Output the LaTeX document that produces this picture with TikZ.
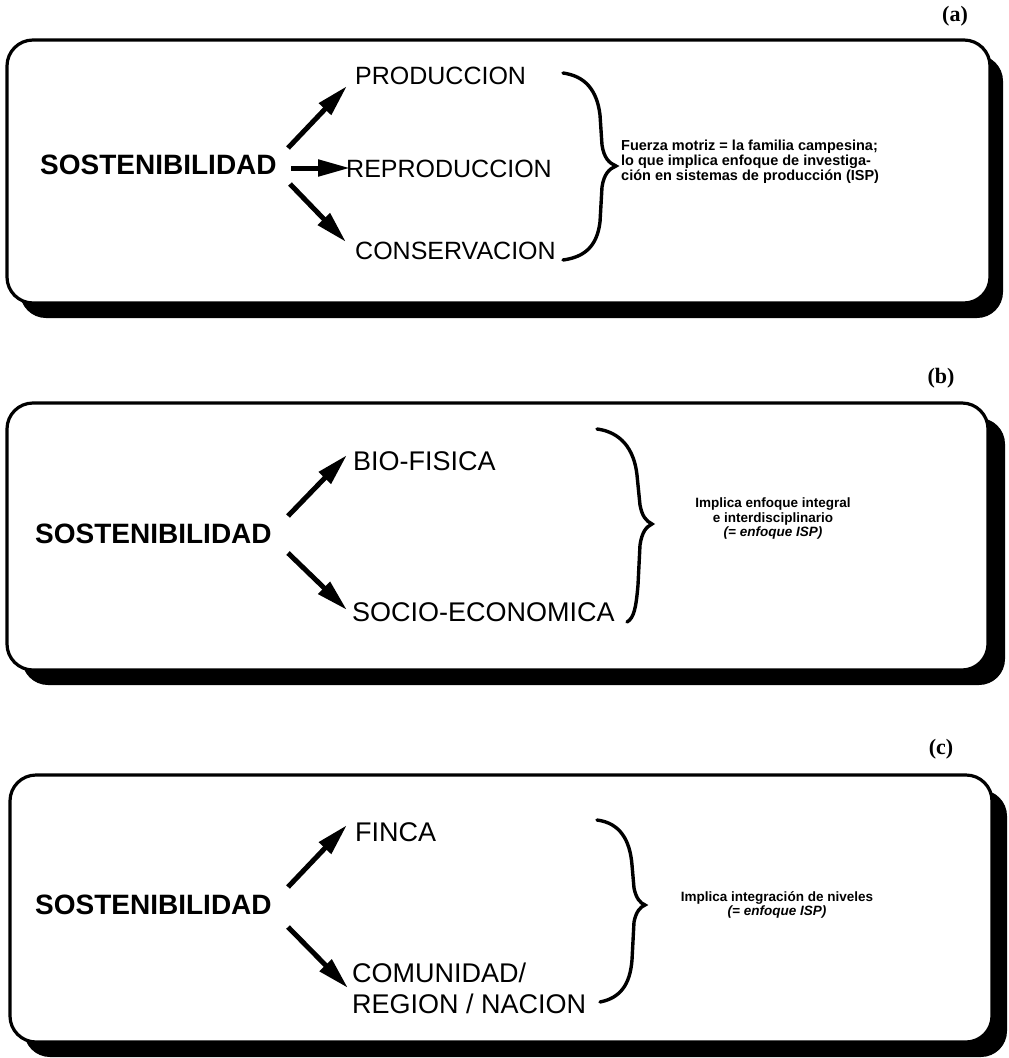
\documentclass[tikz,border=0pt]{standalone}
\usepackage{fontspec}
\setmainfont{Liberation Sans}
\newfontfamily\tagfont{Liberation Serif}
\usetikzlibrary{arrows.meta}
\begin{document}
\begin{tikzpicture}[x=1pt,y=-1pt,
  panel/.style={draw=black,line width=3.2pt,fill=white,rounded corners=26pt},
  shade/.style={fill=black,rounded corners=26pt},
  hub/.style={font=\bfseries\fontsize{28}{30}\selectfont,inner sep=0pt,anchor=west},
  item/.style={font=\fontsize{25}{27}\selectfont,inner sep=0pt,anchor=west},
  bigitem/.style={font=\fontsize{27}{31}\selectfont,inner sep=0pt,anchor=west},
  tag/.style={font=\tagfont\bfseries\fontsize{22}{24}\selectfont,inner sep=0pt},
  note/.style={font=\bfseries\fontsize{14.5}{15}\selectfont,inner sep=0pt},
  bigarrow/.style={line width=5pt,-{Triangle[length=32pt,width=16pt]}},
  brace/.style={line width=3.4pt,line cap=round}]
\useasboundingbox (0,0) rectangle (1009,1058);

% ---------- panel (a) ----------
\node[tag] (tA) at (955,16) {(a)};
\fill[shade] (20,55) rectangle (1003,318);
\draw[panel] (7,40) rectangle (990,303);
\node[hub] (sA) at (40,165) {SOSTENIBILIDAD};
\node[item] (pA) at (355,76) {PRODUCCION};
\node[item] (rA) at (346,169) {REPRODUCCION};
\node[item] (cA) at (355,251) {CONSERVACION};
\coordinate (a1s) at (288,148); \coordinate (a1e) at (347,86);
\coordinate (a2s) at (291,168); \coordinate (a2e) at (350,168);
\coordinate (a3s) at (290,184); \coordinate (a3e) at (346,242);
\draw[bigarrow] (a1s) -- (a1e);
\draw[bigarrow] (a2s) -- (a2e);
\draw[bigarrow] (a3s) -- (a3e);
\draw[brace] (563,73) .. controls (585,76) and (597,90) .. (600,115)
  -- (602,145) .. controls (604,158) and (609,163) .. (616,166)
  .. controls (609,169) and (604,174) .. (602,187)
  -- (600,222) .. controls (597,246) and (585,257) .. (563,260);
\node[note,anchor=west,align=left] (nA) at (621,162)
  {Fuerza motriz = la familia campesina;\\
   lo que implica enfoque de investiga-\\
   ción en sistemas de producción (ISP)};

% ---------- panel (b) ----------
\node[tag] (tB) at (941,378) {(b)};
\fill[shade] (22,418) rectangle (1005,685);
\draw[panel] (7,403) rectangle (988,670);
\node[hub] (sB) at (35,534) {SOSTENIBILIDAD};
\node[bigitem] (pB) at (353,461) {BIO-FISICA};
\node[bigitem] (cB) at (352,612) {SOCIO-ECONOMICA};
\coordinate (b1s) at (288,516); \coordinate (b1e) at (347,455);
\coordinate (b2s) at (288,553); \coordinate (b2e) at (347,610);
\draw[bigarrow] (b1s) -- (b1e);
\draw[bigarrow] (b2s) -- (b2e);
\draw[brace] (597,429) .. controls (620,432) and (634,448) .. (637,475)
  -- (640,505) .. controls (642,516) and (646,521) .. (652,524)
  .. controls (646,527) and (642,532) .. (640,545)
  -- (638,585) .. controls (636,608) and (634,618) .. (627,622);
\node[note,align=center,font=\bfseries\fontsize{13.5}{14.5}\selectfont] (nB) at (773,519)
  {Implica enfoque integral\\
   e interdisciplinario\\
   \itshape(= enfoque ISP)};

% ---------- panel (c) ----------
\node[tag] (tC) at (941,749) {(c)};
\fill[shade] (24,790) rectangle (1007,1057);
\draw[panel] (10,775) rectangle (992,1042);
\node[hub] (sC) at (35,905) {SOSTENIBILIDAD};
\node[bigitem] (pC) at (355,832) {FINCA};
\node[bigitem,align=left,font=\fontsize{27}{31}\selectfont] (cC) at (352,988) {COMUNIDAD/\\REGION / NACION};
\coordinate (c1s) at (288,887); \coordinate (c1e) at (347,825);
\coordinate (c2s) at (288,927); \coordinate (c2e) at (348,988);
\draw[bigarrow] (c1s) -- (c1e);
\draw[bigarrow] (c2s) -- (c2e);
\draw[brace] (597,820) .. controls (620,823) and (630,840) .. (632,865)
  -- (634,888) .. controls (636,898) and (640,903) .. (645,905)
  .. controls (640,907) and (636,912) .. (634,922)
  -- (632,960) .. controls (630,985) and (620,998) .. (600,1002);
\node[note,align=center,font=\bfseries\fontsize{13.5}{14.5}\selectfont] (nC) at (777,905)
  {Implica integración de niveles\\
   \itshape(= enfoque ISP)};
\end{tikzpicture}
\end{document}
